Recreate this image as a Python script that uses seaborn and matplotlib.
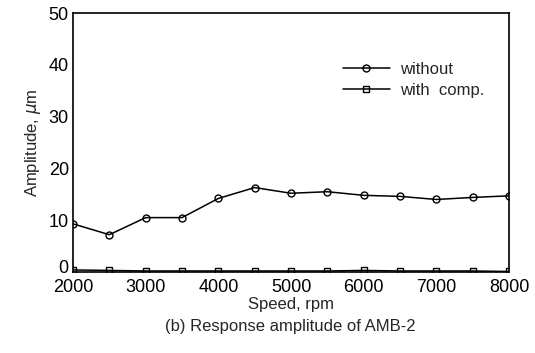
import matplotlib
matplotlib.use("Agg")
import matplotlib.pyplot as plt
import matplotlib.transforms as mtransforms
import seaborn as sns
import pandas as pd

speed = [2000, 2500, 3000, 3500, 4000, 4500, 5000, 5500, 6000, 6500, 7000, 7500, 8000]
without = [9.3, 7.2, 10.5, 10.5, 14.2, 16.3, 15.2, 15.5, 14.8, 14.6, 14.0, 14.4, 14.7]
with_comp = [0.4, 0.3, 0.2, 0.2, 0.2, 0.2, 0.2, 0.2, 0.3, 0.2, 0.2, 0.2, 0.1]
series_names = ["without", "with  comp."]

sns.set_theme(style="white")
plt.rcParams['font.family'] = ['Liberation Sans', 'DejaVu Sans']

df = pd.DataFrame({
    "speed": speed * 2,
    "amp": without + with_comp,
    "series": [series_names[0]] * len(speed) + [series_names[1]] * len(speed),
})

fig = plt.figure(figsize=(5.35, 3.53), dpi=100)
ax = fig.add_axes([73/535, 1 - 272/353, (509-73)/535, (272-13)/353])

sns.lineplot(data=df, x="speed", y="amp", hue="series", style="series",
             palette=["black", "black"], markers=["o", "s"], dashes=False,
             markersize=5, markerfacecolor="none", markeredgecolor="black",
             markeredgewidth=1.0, linewidth=1.1, ax=ax, legend=True)

ax.set_xlim(2000, 8000)
ax.set_ylim(0, 50)
ax.set_xticks(range(2000, 8001, 1000))
ax.set_yticks(range(0, 51, 10))
ax.tick_params(direction="in", length=5, width=1, labelsize=13, colors="black")
ax.tick_params(axis="x", pad=5)
ax.tick_params(axis="y", pad=3)
for s in ax.spines.values():
    s.set_color("black")
    s.set_linewidth(1.2)
ax.set_xlabel("Speed, rpm", fontsize=12, labelpad=1)
ax.set_ylabel("Amplitude, $\\mu$m", fontsize=12, labelpad=4)

# lift the "0" label slightly so it does not collide with "2000"
fig.canvas.draw()
zero_lbl = ax.get_yticklabels()[0]
zero_lbl.set_transform(zero_lbl.get_transform() +
                       mtransforms.ScaledTranslation(0, 4/72, fig.dpi_scale_trans))

leg = ax.legend(loc="upper left", bbox_to_anchor=(0.585, 0.87), frameon=False,
                fontsize=12, handlelength=2.8, labelspacing=0.35, handletextpad=0.6)

fig.text(290/535, 1 - 326/353, "(b) Response amplitude of AMB-2", ha="center",
         va="center", fontsize=12)

fig.savefig("out.png", dpi=100)
